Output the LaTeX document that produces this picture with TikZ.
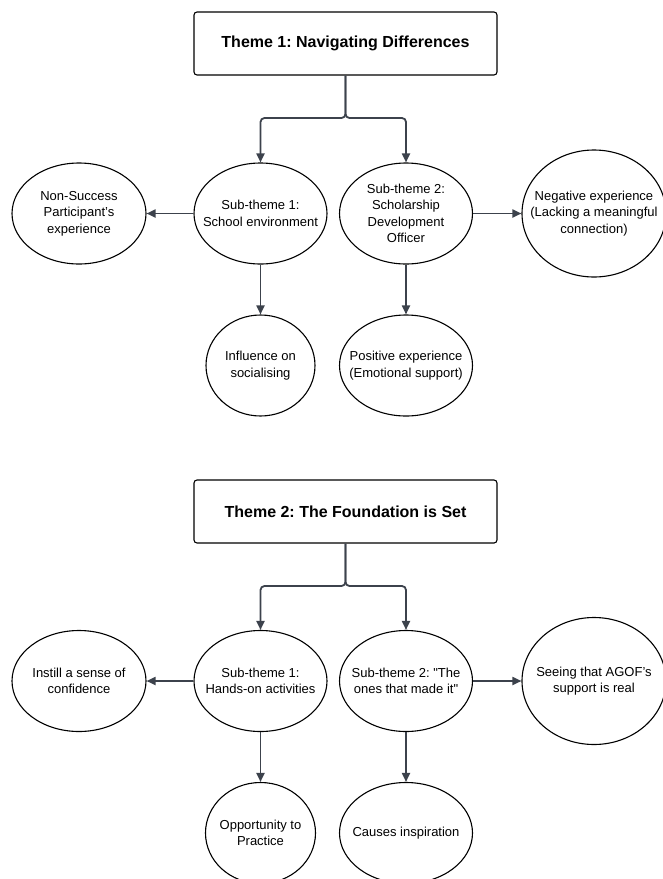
\documentclass[tikz,border=0pt]{standalone}
\usepackage{fontspec}
\setmainfont{Liberation Sans}
\frenchspacing
\usetikzlibrary{arrows.meta, shapes.geometric}
\definecolor{linkgray}{RGB}{60,66,76}

\begin{document}
\begin{tikzpicture}[x=1pt, y=-1pt, font=\fontsize{13}{16.5}\selectfont]
	% Styles for boxes, topics and links
	\tikzset{theme/.style={draw=black, line width=1.1pt, rounded corners=3pt, minimum width=303pt, minimum height=63pt, inner sep=0pt, font=\fontsize{16}{19}\selectfont\bfseries}}
	\tikzset{topic/.style={ellipse, draw=black, line width=1.1pt, minimum width=133pt, minimum height=101pt, inner sep=0pt, label={[align=center]center:#1}}}
	\tikzset{link/.style={draw=linkgray, line width=1.8pt, -{Triangle[length=9pt,width=8pt]}, rounded corners=4pt}}
	\useasboundingbox (0,0) rectangle (662,879);
	
	% --- Theme 1 ---
	\node[theme] (th1) at (345.5,43.5) {Theme 1: Navigating Differences};
	\coordinate (j1) at (345.5,118);
	\node[topic={Sub-theme 1:\\School environment}] (st11) at (260.5,213.5) {};
	\node[topic={Sub-theme 2:\\Scholarship\\Development\\Officer}] (st12) at (406,213.5) {};
	\node[topic={Non-Success\\Participant's\\experience}, minimum width=134pt] (nonsucc) at (79,213.5) {};
	\node[topic={Negative experience\\(Lacking a meaningful\\connection)}, minimum width=144pt, minimum height=127pt] (negative) at (594,213.5) {};
	\node[topic={Influence on\\socialising}, minimum width=109pt] (influence) at (260.5,365.5) {};
	\node[topic={Positive experience\\(Emotional support)}] (positive) at (406,365.5) {};
	
	\draw[link] (th1.south) -- (j1) -| (st11.north);
	\draw[link] (th1.south) -- (j1) -| (st12.north);
	\draw[link] (st11.west) -- (nonsucc.east);
	\draw[link] (st12.east) -- (negative.west);
	\draw[link] (st11.south) -- (influence.north);
	\draw[link] (st12.south) -- (positive.north);
	
	% --- Theme 2 ---
	\node[theme] (th2) at (345.5,511.5) {Theme 2: The Foundation is Set};
	\coordinate (j2) at (345.5,586);
	\node[topic={Sub-theme 1:\\Hands-on activities}] (st21) at (260.5,681) {};
	\node[topic={Sub-theme 2: \textquotedbl The\\ones that made it\textquotedbl}] (st22) at (406,681) {};
	\node[topic={Instill a sense of\\confidence}, minimum width=134pt] (confidence) at (79,681) {};
	\node[topic={Seeing that AGOF's\\support is real}, minimum width=144pt, minimum height=127pt] (agof) at (594,681) {};
	\node[topic={Opportunity to\\Practice}, minimum width=110pt] (practice) at (260.5,833) {};
	\node[topic={Causes inspiration}] (inspiration) at (406,833) {};
	
	\draw[link] (th2.south) -- (j2) -| (st21.north);
	\draw[link] (th2.south) -- (j2) -| (st22.north);
	\draw[link] (st21.west) -- (confidence.east);
	\draw[link] (st22.east) -- (agof.west);
	\draw[link] (st21.south) -- (practice.north);
	\draw[link] (st22.south) -- (inspiration.north);
\end{tikzpicture}
\end{document}
